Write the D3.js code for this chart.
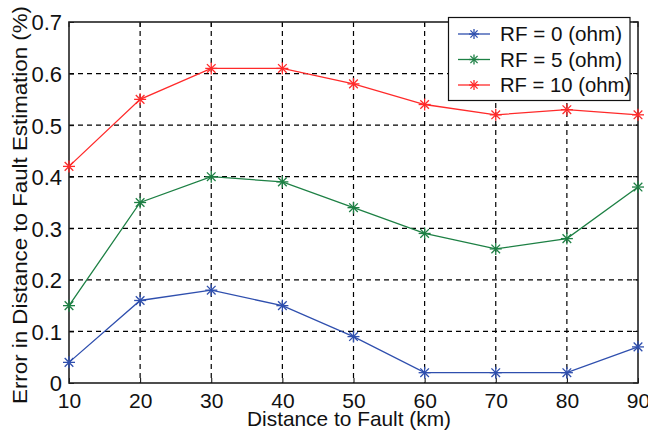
<!DOCTYPE html>
<html><head><meta charset="utf-8">
<script src="https://cdn.jsdelivr.net/npm/d3@7"></script>
<style>body{margin:0;background:#fff}svg{display:block}text{font-family:"Liberation Sans",Arial,sans-serif;fill:#111}</style>
</head><body><svg id="c" width="648" height="435"></svg>
<script>
const distances = [10,20,30,40,50,60,70,80,90];
const rf0 = [0.04,0.16,0.18,0.15,0.09,0.02,0.02,0.02,0.07];
const rf5 = [0.15,0.35,0.40,0.39,0.34,0.29,0.26,0.28,0.38];
const rf10 = [0.42,0.55,0.61,0.61,0.58,0.54,0.52,0.53,0.52];
const seriesNames = ["RF = 0 (ohm)","RF = 5 (ohm)","RF = 10 (ohm)"];
const seriesColors = ["#2f4fae","#1d8044","#ff2a2a"];
const xTicks = [10,20,30,40,50,60,70,80,90];
const yTicks = [0,0.1,0.2,0.3,0.4,0.5,0.6,0.7];
const xLabel = "Distance to Fault (km)";
const yLabel = "Error in Distance to Fault Estimation (%)";

const svg = d3.select("#c");
const L=69, R=638, T=22, B=383;
const x = d3.scaleLinear().domain([10,90]).range([L,R]);
const y = d3.scaleLinear().domain([0,0.7]).range([B,T]);

// grid
const g = svg.append("g");
g.selectAll("line.vx").data(xTicks.slice(1,-1)).enter().append("line")
 .attr("x1",d=>x(d)).attr("x2",d=>x(d)).attr("y1",T).attr("y2",B)
 .attr("stroke","#000").attr("stroke-width",1.2).attr("stroke-dasharray","5,4");
g.selectAll("line.hy").data(yTicks.slice(1,-1)).enter().append("line")
 .attr("y1",d=>y(d)).attr("y2",d=>y(d)).attr("x1",L).attr("x2",R)
 .attr("stroke","#000").attr("stroke-width",1.2).attr("stroke-dasharray","5,4");

// axes
const xAxis = d3.axisBottom(x).tickValues(xTicks).tickSize(-5).tickPadding(0).tickFormat(d3.format("d"));
const yAxis = d3.axisLeft(y).tickValues(yTicks).tickSize(-5).tickPadding(7).tickFormat(d=>d===0?"0":d3.format(".1f")(d));
const gx = svg.append("g").attr("transform",`translate(0,${B})`).call(xAxis);
const gy = svg.append("g").attr("transform",`translate(${L},0)`).call(yAxis);
[gx,gy].forEach(a=>{a.select(".domain").remove();a.selectAll("line").attr("stroke","#000");a.selectAll("text").attr("font-family","Liberation Sans, Arial, sans-serif").attr("fill","#111");});
gx.selectAll("text").attr("font-size",21).attr("y",25).attr("dy",0);
gy.selectAll("text").attr("font-size",22).attr("dy","0.36em");
// right/top ticks
svg.append("g").selectAll("line").data(xTicks).enter().append("line").attr("x1",d=>x(d)).attr("x2",d=>x(d)).attr("y1",T).attr("y2",T+5).attr("stroke","#000");
svg.append("g").selectAll("line").data(yTicks).enter().append("line").attr("y1",d=>y(d)).attr("y2",d=>y(d)).attr("x1",R).attr("x2",R-5).attr("stroke","#000");

// box
svg.append("rect").attr("x",L).attr("y",T).attr("width",R-L).attr("height",B-T).attr("fill","none").attr("stroke","#222").attr("stroke-width",1.6);

// series
const allSeries = [rf0,rf5,rf10];
const line = d3.line().x((d,i)=>x(distances[i])).y(d=>y(d));
function star(sel,cx,cy,col,r){
  const a = sel.append("g").attr("transform",`translate(${cx},${cy})`).attr("stroke",col).attr("stroke-width",1.3);
  [[-r,0,r,0],[0,-r,0,r],[-r*0.72,-r*0.72,r*0.72,r*0.72],[-r*0.72,r*0.72,r*0.72,-r*0.72]].forEach(p=>a.append("line").attr("x1",p[0]).attr("y1",p[1]).attr("x2",p[2]).attr("y2",p[3]));
}
allSeries.forEach((s,k)=>{
  svg.append("path").datum(s).attr("d",line).attr("fill","none").attr("stroke",seriesColors[k]).attr("stroke-width",1.3);
  s.forEach((v,i)=>star(svg,x(distances[i]),y(v),seriesColors[k],6));
});

// labels
svg.append("text").attr("x",349).attr("y",426).attr("text-anchor","middle").attr("font-size",21)
  .attr("textLength",204).attr("lengthAdjust","spacingAndGlyphs").text(xLabel);
svg.append("text").attr("transform",`translate(27,205) rotate(-90)`).attr("text-anchor","middle").attr("font-size",21)
  .attr("textLength",398).attr("lengthAdjust","spacingAndGlyphs").text(yLabel);

// legend
const lg = svg.append("g");
lg.append("rect").attr("x",448.5).attr("y",17.5).attr("width",181.5).attr("height",83).attr("fill","#fff").attr("stroke","#111").attr("stroke-width",1.2);
const legLens = [122,122,131];
seriesNames.forEach((n,k)=>{
  const yy = 34 + k*25.5;
  lg.append("line").attr("x1",458).attr("x2",490).attr("y1",yy).attr("y2",yy).attr("stroke",seriesColors[k]).attr("stroke-width",1.3);
  star(lg,474,yy,seriesColors[k],5);
  lg.append("text").attr("x",500).attr("y",yy+7).attr("font-size",21)
    .attr("textLength",legLens[k]).attr("lengthAdjust","spacingAndGlyphs").text(n);
});
</script></body></html>
